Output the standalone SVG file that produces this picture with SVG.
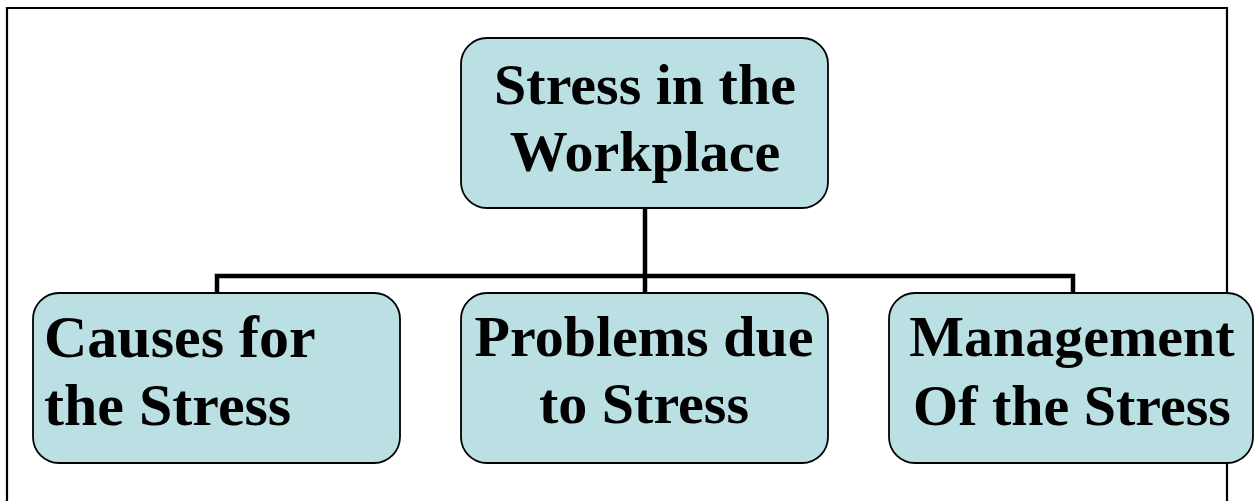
<svg xmlns="http://www.w3.org/2000/svg" width="1254" height="501" viewBox="0 0 1254 501">
  <style>
    .frame { fill: none; stroke: #000; stroke-width: 2.2; }
    .box { fill: #BAE0E3; stroke: #000; stroke-width: 1.8; }
    .link { fill: none; stroke: #000; stroke-width: 4.5; stroke-linejoin: miter; }
    .label { font-family: "Liberation Serif", "Times New Roman", serif; font-weight: bold; font-size: 58px; fill: #000; }
    .wide { font-size: 60px; }
    .mid { text-anchor: middle; }
  </style>
  <rect width="1254" height="501" fill="#fff"/>
  <!-- page frame, open at the bottom -->
  <path class="frame" d="M7,510 V8 H1227 V510"/>

  <g id="connectors">
    <path class="link" d="M645,208 V293"/>
    <path class="link" d="M217,293 V276 H1073 V293"/>
  </g>

  <g id="node-root">
    <rect class="box" x="461" y="38" width="367" height="170" rx="26" ry="26"/>
    <text class="label mid" x="645" y="104">Stress in the</text>
    <text class="label mid" x="645" y="171">Workplace</text>
  </g>

  <g id="node-causes">
    <rect class="box" x="33" y="293" width="367" height="170" rx="26" ry="26"/>
    <text class="label wide" x="44" y="357">Causes for</text>
    <text class="label wide" x="44" y="425">the Stress</text>
  </g>

  <g id="node-problems">
    <rect class="box" x="461" y="293" width="367" height="170" rx="26" ry="26"/>
    <text class="label mid" x="644" y="356">Problems due</text>
    <text class="label mid" x="644" y="423">to Stress</text>
  </g>

  <g id="node-management">
    <rect class="box" x="889" y="293" width="364" height="170" rx="26" ry="26"/>
    <text class="label mid" x="1072" y="356">Management</text>
    <text class="label mid" x="1072" y="425">Of the Stress</text>
  </g>
</svg>
